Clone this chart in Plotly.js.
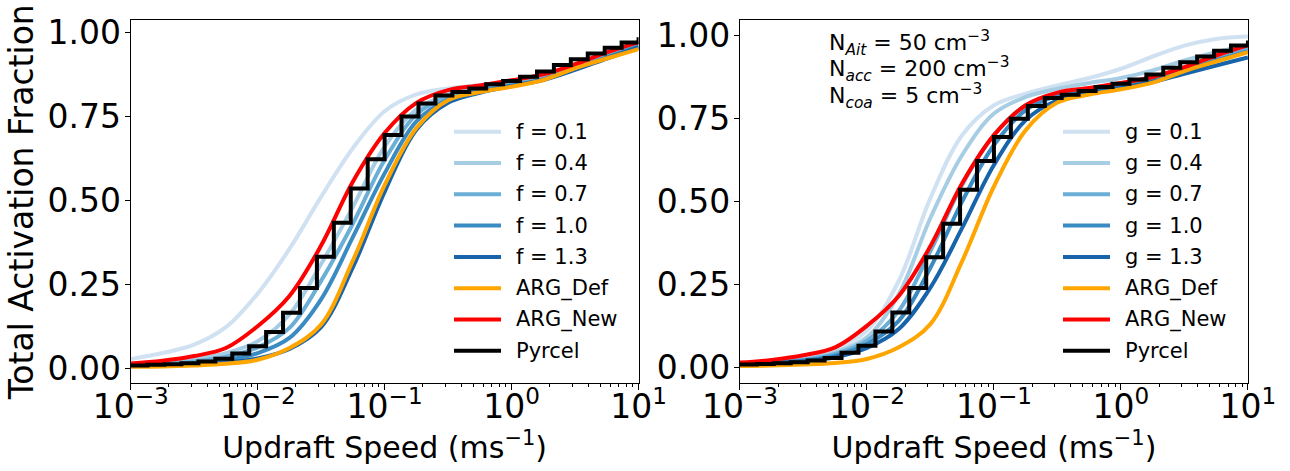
<!DOCTYPE html>
<html>
<head>
<meta charset="utf-8">
<script src="https://cdn.plot.ly/plotly-3.0.1.min.js"></script>
<style>
  html, body { margin: 0; padding: 0; background: #fff; }
  #chart { width: 1290px; height: 471px; }
</style>
</head>
<body>
<div id="chart"></div>
<script>
// Updraft speeds (m/s) at which the parameterised curves are sampled
const updraft = [0.001, 0.00178, 0.00316, 0.00562, 0.01, 0.0178, 0.0316, 0.0562, 0.1,
                 0.178, 0.316, 0.562, 1, 1.78, 3.16, 5.62, 10];

// Left panel: sensitivity to f
const fLabels = ['f = 0.1', 'f = 0.4', 'f = 0.7', 'f = 1.0', 'f = 1.3'];
const f01 = [0.027, 0.045, 0.07, 0.122, 0.222, 0.355, 0.51, 0.655, 0.765, 0.815, 0.833, 0.843, 0.852, 0.868, 0.895, 0.928, 0.958];
const f04 = [0.012, 0.017, 0.026, 0.045, 0.08, 0.16, 0.31, 0.48, 0.66, 0.77, 0.815, 0.835, 0.848, 0.865, 0.895, 0.93, 0.962];
const f07 = [0.010, 0.013, 0.02, 0.034, 0.062, 0.12, 0.26, 0.43, 0.62, 0.755, 0.81, 0.83, 0.845, 0.862, 0.893, 0.928, 0.96];
const f10 = [0.008, 0.010, 0.015, 0.024, 0.045, 0.09, 0.205, 0.39, 0.58, 0.735, 0.80, 0.825, 0.842, 0.86, 0.89, 0.925, 0.958];
const f13 = [0.006, 0.008, 0.011, 0.017, 0.029, 0.057, 0.122, 0.30, 0.525, 0.71, 0.79, 0.82, 0.84, 0.858, 0.888, 0.922, 0.955];

// Right panel: sensitivity to g
const gLabels = ['g = 0.1', 'g = 0.4', 'g = 0.7', 'g = 1.0', 'g = 1.3'];
const g01 = [0.012, 0.018, 0.03, 0.055, 0.11, 0.26, 0.51, 0.70, 0.79, 0.825, 0.85, 0.872, 0.90, 0.937, 0.97, 0.99, 0.997];
const g04 = [0.011, 0.015, 0.024, 0.045, 0.09, 0.22, 0.45, 0.64, 0.765, 0.815, 0.84, 0.857, 0.872, 0.895, 0.925, 0.95, 0.97];
const g07 = [0.010, 0.014, 0.022, 0.04, 0.08, 0.17, 0.35, 0.55, 0.70, 0.79, 0.825, 0.84, 0.855, 0.875, 0.903, 0.935, 0.962];
const g10 = [0.009, 0.013, 0.02, 0.035, 0.07, 0.14, 0.30, 0.50, 0.67, 0.775, 0.818, 0.835, 0.85, 0.868, 0.895, 0.925, 0.952];
const g13 = [0.008, 0.012, 0.018, 0.03, 0.058, 0.115, 0.24, 0.42, 0.61, 0.745, 0.805, 0.828, 0.843, 0.86, 0.885, 0.91, 0.934];

// Reference schemes (shared by both panels)
const argDef = [0.004, 0.005, 0.008, 0.013, 0.025, 0.06, 0.13, 0.32, 0.545, 0.715, 0.798, 0.822, 0.838, 0.858, 0.893, 0.922, 0.950];
const argNew = [0.014, 0.022, 0.036, 0.06, 0.125, 0.215, 0.365, 0.555, 0.70, 0.79, 0.828, 0.842, 0.857, 0.875, 0.905, 0.94, 0.971];

// Parcel model runs (discrete updrafts, drawn as steps)
const pyrcelW = [0.001, 0.001359, 0.001848, 0.002512, 0.003415, 0.004642, 0.00631, 0.008577,
                 0.01166, 0.01585, 0.02154, 0.02929, 0.03981, 0.05412, 0.07356, 0.1, 0.1359,
                 0.1848, 0.2512, 0.3415, 0.4642, 0.631, 0.8577, 1.166, 1.585, 2.154, 2.929,
                 3.981, 5.412, 7.356, 10];
const pyrcel = [0.008, 0.010, 0.012, 0.015, 0.020, 0.028, 0.044, 0.065, 0.108, 0.165, 0.239,
                0.332, 0.433, 0.535, 0.622, 0.694, 0.749, 0.788, 0.812, 0.822, 0.833, 0.845,
                0.855, 0.868, 0.883, 0.903, 0.920, 0.937, 0.954, 0.970, 0.985];

// Axis tick labels
const xTickVals = [0.001, 0.01, 0.1, 1, 10];
const xTickText = ['10<sup>−3</sup>', '10<sup>−2</sup>', '10<sup>−1</sup>', '10<sup>0</sup>', '10<sup>1</sup>'];
const yTickVals = [0, 0.25, 0.5, 0.75, 1];
const yTickText = ['0.00', '0.25', '0.50', '0.75', '1.00'];

const blues = ['#d0e1f2', '#a6cde4', '#6baed6', '#3b8bc3', '#1764ab'];
const LW = 4;
const FONT = 'DejaVu Sans, sans-serif';
const W = 1290, H = 471;

function panel(ax, labels, series) {
  const xa = ax === 1 ? 'x' : 'x2';
  const ya = ax === 1 ? 'y' : 'y2';
  const tr = [];
  series.forEach((ys, i) => {
    tr.push({x: updraft, y: ys, xaxis: xa, yaxis: ya, mode: 'lines', name: labels[i],
             line: {color: blues[i], width: LW, shape: 'spline'}});
  });
  tr.push({x: updraft, y: argDef, xaxis: xa, yaxis: ya, mode: 'lines', name: 'ARG_Def',
           line: {color: '#ffa500', width: LW, shape: 'spline'}});
  tr.push({x: updraft, y: argNew, xaxis: xa, yaxis: ya, mode: 'lines', name: 'ARG_New',
           line: {color: '#ff0000', width: LW, shape: 'spline'}});
  tr.push({x: pyrcelW, y: pyrcel, xaxis: xa, yaxis: ya, mode: 'lines', name: 'Pyrcel',
           line: {color: '#000000', width: LW, shape: 'hv'}});
  return tr;
}

const traces = panel(1, fLabels, [f01, f04, f07, f10, f13])
  .concat(panel(2, gLabels, [g01, g04, g07, g10, g13]));

function xAxis(domain, anchor) {
  return {
    type: 'log', domain: domain, anchor: anchor, range: [-3, 1],
    tickmode: 'array', tickvals: xTickVals, ticktext: xTickText,
    showgrid: false, zeroline: false,
    showline: true, linecolor: '#000', linewidth: 1, mirror: true,
    ticks: 'outside', ticklen: 6, tickwidth: 1, tickcolor: '#000',
    minor: {ticks: 'outside', ticklen: 3, tickwidth: 1, tickcolor: '#000', dtick: 'D1', showgrid: false},
    tickfont: {family: FONT, size: 33, color: '#000'},
    ticklabelstandoff: -12,
    title: {text: 'Updraft Speed (ms<sup>−1</sup>)', font: {family: FONT, size: 30, color: '#000'}, standoff: 2}
  };
}
function yAxis(domain, anchor, range, withTitle) {
  const a = {
    domain: domain, anchor: anchor, range: range,
    tickmode: 'array', tickvals: yTickVals, ticktext: yTickText,
    showgrid: false, zeroline: false,
    showline: true, linecolor: '#000', linewidth: 1, mirror: true,
    ticks: 'outside', ticklen: 5, tickwidth: 1, tickcolor: '#000',
    tickfont: {family: FONT, size: 33, color: '#000'},
    ticklabelstandoff: -3
  };
  if (withTitle) a.title = {text: 'Total Activation Fraction', font: {family: FONT, size: 33, color: '#000'}, standoff: 4};
  return a;
}

// Legends drawn as short line samples plus labels, one column per panel
const legendRows = [131.7, 163, 194.3, 225.6, 256.9, 288.2, 319.5, 350.8];
const legendColors = blues.concat(['#ffa500', '#ff0000', '#000000']);
const shapes = [];
const annotations = [];
function addLegend(x0, labels) {
  const names = labels.concat(['ARG_Def', 'ARG_New', 'Pyrcel']);
  names.forEach((name, i) => {
    const yp = 1 - legendRows[i] / H;
    shapes.push({type: 'line', xref: 'paper', yref: 'paper', x0: x0 / W, x1: (x0 + 47) / W,
                 y0: yp, y1: yp, line: {color: legendColors[i], width: LW}});
    annotations.push({xref: 'paper', yref: 'paper', x: (x0 + 60) / W, y: yp,
                      xanchor: 'left', yanchor: 'middle', showarrow: false,
                      font: {family: FONT, size: 21, color: '#000'}, text: name});
  });
}
addLegend(454, fLabels);
addLegend(1063, gLabels);

// Aerosol number concentrations used for the right panel
const concLines = ['N<sub><i>Ait</i></sub> = 50 cm<sup>−3</sup>',
                   'N<sub><i>acc</i></sub> = 200 cm<sup>−3</sup>',
                   'N<sub><i>coa</i></sub> = 5 cm<sup>−3</sup>'];
const concRows = [43.5, 69.5, 95.5];
concLines.forEach((t, i) => {
  annotations.push({xref: 'paper', yref: 'paper', x: 827 / W, y: 1 - concRows[i] / H,
                    xanchor: 'left', yanchor: 'middle', showarrow: false, align: 'left',
                    font: {family: FONT, size: 22, color: '#000'}, text: t});
});

const layout = {
  width: W, height: H,
  margin: {l: 0, r: 0, t: 0, b: 0},
  paper_bgcolor: '#fff', plot_bgcolor: '#fff',
  xaxis: xAxis([0.1013, 0.4950], 'y'),
  yaxis: yAxis([0.1858, 0.9575], 'x', [-0.0456, 1.0366], true),
  xaxis2: xAxis([0.5736, 0.9674], 'y2'),
  yaxis2: yAxis([0.1858, 0.9575], 'x2', [-0.049, 1.047], false),
  shapes: shapes,
  annotations: annotations,
  showlegend: false
};

Plotly.newPlot('chart', traces, layout, {staticPlot: true, displayModeBar: false});
</script>
</body>
</html>
